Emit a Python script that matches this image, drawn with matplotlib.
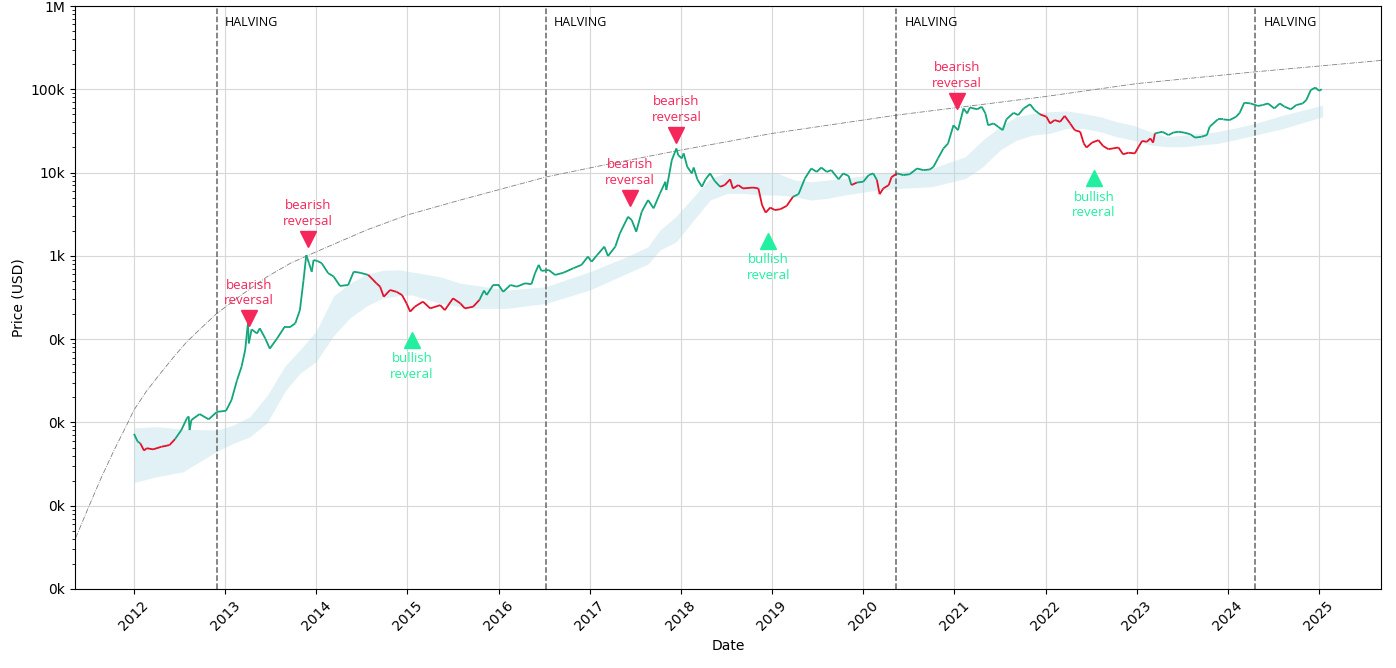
import matplotlib
matplotlib.use("Agg")
import matplotlib.pyplot as plt
import numpy as np
from matplotlib.collections import LineCollection
from matplotlib.ticker import FuncFormatter, NullFormatter

# price (decimal year, USD)
years = [2012.00, 2012.04, 2012.07, 2012.11, 2012.14, 2012.21, 2012.30, 2012.39, 2012.45, 2012.52,
         2012.58, 2012.60, 2012.61, 2012.63, 2012.72, 2012.82, 2012.91, 2013.01, 2013.07, 2013.13,
         2013.18, 2013.22, 2013.25, 2013.26, 2013.29, 2013.35, 2013.38, 2013.44, 2013.49, 2013.57,
         2013.65, 2013.71, 2013.77, 2013.82, 2013.86, 2013.89, 2013.92, 2013.95, 2013.97, 2014.01,
         2014.06, 2014.13, 2014.19, 2014.26, 2014.35, 2014.41, 2014.48, 2014.57, 2014.66, 2014.70,
         2014.74, 2014.81, 2014.88, 2014.94, 2014.99, 2015.03, 2015.08, 2015.17, 2015.25, 2015.36,
         2015.41, 2015.50, 2015.58, 2015.63, 2015.72, 2015.79, 2015.84, 2015.87, 2015.94, 2016.00,
         2016.05, 2016.13, 2016.20, 2016.29, 2016.36, 2016.40, 2016.44, 2016.47, 2016.55, 2016.62,
         2016.71, 2016.82, 2016.91, 2016.98, 2017.02, 2017.08, 2017.16, 2017.20, 2017.28, 2017.33,
         2017.42, 2017.46, 2017.51, 2017.57, 2017.64, 2017.70, 2017.77, 2017.83, 2017.84, 2017.90,
         2017.95, 2017.97, 2018.01, 2018.03, 2018.07, 2018.12, 2018.14, 2018.18, 2018.23, 2018.27,
         2018.32, 2018.37, 2018.43, 2018.48, 2018.54, 2018.57, 2018.63, 2018.68, 2018.79, 2018.85,
         2018.89, 2018.93, 2018.98, 2019.03, 2019.09, 2019.16, 2019.23, 2019.29, 2019.36, 2019.43,
         2019.49, 2019.54, 2019.60, 2019.65, 2019.73, 2019.78, 2019.84, 2019.87, 2019.93, 2020.00,
         2020.06, 2020.11, 2020.15, 2020.18, 2020.22, 2020.28, 2020.31, 2020.37, 2020.44, 2020.51,
         2020.59, 2020.66, 2020.73, 2020.77, 2020.82, 2020.88, 2020.93, 2020.99, 2021.04, 2021.10,
         2021.14, 2021.17, 2021.25, 2021.30, 2021.34, 2021.37, 2021.43, 2021.48, 2021.53, 2021.57,
         2021.65, 2021.70, 2021.76, 2021.83, 2021.88, 2021.94, 2022.01, 2022.05, 2022.10, 2022.16,
         2022.21, 2022.27, 2022.32, 2022.38, 2022.42, 2022.45, 2022.51, 2022.58, 2022.63, 2022.69,
         2022.74, 2022.80, 2022.85, 2022.91, 2022.98, 2023.02, 2023.06, 2023.11, 2023.15, 2023.18,
         2023.20, 2023.28, 2023.35, 2023.40, 2023.46, 2023.52, 2023.59, 2023.64, 2023.71, 2023.77,
         2023.80, 2023.89, 2023.95, 2024.02, 2024.09, 2024.13, 2024.18, 2024.25, 2024.33, 2024.38,
         2024.44, 2024.51, 2024.57, 2024.62, 2024.69, 2024.75, 2024.82, 2024.86, 2024.91, 2024.96,
         2025.00, 2025.03]
prices = [7.3, 5.9, 5.6, 4.6, 4.9, 4.75, 5.1, 5.35, 6.3, 8.1,
          11.2, 11.8, 8.1, 10.7, 12.6, 10.9, 13.4, 13.8, 18.6, 32,
          46.7, 74, 155, 89, 131, 117, 135, 102, 77, 102,
          139, 139, 155, 223, 510, 1020, 815, 645, 890, 870,
          815, 620, 565, 435, 447, 645, 627, 590, 468, 427,
          323, 389, 370, 339, 269, 214, 245, 282, 234, 256,
          223, 309, 269, 234, 245, 296, 383, 339, 447, 447,
          370, 447, 427, 468, 457, 620, 780, 660, 676, 590,
          627, 710, 780, 980, 850, 1020, 1290, 995, 1290, 1860,
          2950, 2690, 1950, 3390, 4680, 3720, 5620, 7760, 6170, 14100,
          19500, 16200, 14800, 17000, 11700, 9770, 11500, 8300, 6760, 8300,
          9770, 7940, 6760, 7080, 8300, 6450, 7080, 6450, 6610, 6450,
          4070, 3310, 3800, 3550, 3630, 3980, 5130, 5500, 8500, 11200,
          10200, 11500, 10200, 10700, 8300, 9770, 9100, 7080, 7590, 7760,
          9330, 9770, 8130, 5500, 6450, 7080, 8800, 9770, 9330, 9550,
          11200, 10700, 10900, 11700, 14800, 19500, 22300, 37000, 32300, 58900,
          51300, 60500, 57500, 61700, 51300, 37000, 38900, 35500, 32300, 43500,
          52200, 49000, 58900, 66100, 56200, 50000, 46800, 38900, 42700, 40700,
          47900, 38900, 32300, 30900, 22300, 20000, 22900, 24500, 20900, 19100,
          19500, 20000, 16600, 17300, 17000, 20400, 24000, 23400, 25700, 22900,
          29500, 30900, 28200, 30200, 30900, 30200, 28800, 26300, 26900, 28200,
          35500, 43500, 43500, 42700, 46800, 52200, 69000, 67600, 63100, 64600,
          67600, 58900, 67600, 62000, 57500, 64600, 67600, 74000, 98000, 105000,
          96000, 100000]

# bearish regime periods (drawn red)
red_periods = [(2012.06, 2012.46), (2014.57, 2015.79), (2018.42, 2019.25),
               (2019.86, 2019.95), (2020.14, 2020.36), (2021.93, 2023.19)]

# smoothed band
band_years = [2012.00, 2012.25, 2012.54, 2012.91, 2013.09, 2013.27, 2013.46, 2013.66, 2013.82, 2014.00,
              2014.19, 2014.37, 2014.55, 2014.73, 2014.92, 2015.05, 2015.36, 2015.58, 2015.72, 2016.09,
              2016.52, 2017.00, 2017.41, 2017.64, 2017.77, 2017.95, 2018.14, 2018.32, 2018.51, 2018.69,
              2018.87, 2019.06, 2019.25, 2019.43, 2019.61, 2019.79, 2020.16, 2020.39, 2020.75, 2021.12,
              2021.31, 2021.50, 2021.68, 2021.86, 2022.04, 2022.23, 2022.41, 2022.60, 2022.78, 2022.96,
              2023.15, 2023.33, 2023.51, 2023.70, 2023.88, 2024.06, 2024.30, 2024.61, 2025.04]
band_upper = [8.6, 8.9, 8.3, 8.1, 9.3, 11.7, 21, 48, 74, 125,
              330, 470, 600, 670, 680, 640, 561, 470, 447, 389,
              427, 645, 980, 1290, 2040, 3000, 5130, 8500, 10000, 9770,
              9770, 9770, 8130, 7760, 8130, 8500, 9770, 10200, 11200, 15500,
              24500, 35500, 46800, 51300, 53700, 55000, 51300, 46800, 40700, 37000,
              30900, 26900, 28200, 29500, 30900, 33900, 38900, 49000, 64600]
band_lower = [1.9, 2.23, 2.56, 4.5, 5.6, 6.7, 9.9, 24, 38.8, 54,
              110, 180, 250, 310, 335, 339, 269, 245, 234, 234,
              269, 389, 617, 800, 1175, 1480, 2690, 4680, 5620, 5620,
              5370, 5370, 5130, 4680, 4900, 5370, 6170, 6450, 6760, 8500,
              11700, 18600, 24500, 28200, 29500, 33900, 33900, 30900, 26900, 24500,
              21400, 20400, 20400, 21400, 22300, 24500, 28200, 33900, 46800]

# long-term trend curve
trend_years = [2011.36, 2011.50, 2011.63, 2011.78, 2011.92, 2012.00, 2012.14, 2012.29, 2012.43, 2012.58,
               2012.75, 2012.91, 2013.18, 2013.46, 2013.72, 2014.00, 2014.55, 2015.00, 2015.58, 2016.53,
               2017.20, 2017.95, 2019.00, 2020.37, 2021.98, 2023.00, 2024.30, 2025.62, 2025.70]
trend_values = [0.41, 0.95, 2.04, 4.6, 9.3, 14.1, 24, 38.8, 60, 93,
                140, 204, 340, 561, 820, 1120, 2040, 3100, 4680, 8900,
                12600, 18200, 29500, 49000, 81300, 117000, 162000, 219000, 223000]

halvings = [2012.91, 2016.52, 2020.36, 2024.30]

bear_years = [2013.26, 2013.91, 2017.44, 2017.95, 2021.03]
bear_prices = [178, 1610, 5000, 28500, 72600]
bull_years = [2015.05, 2018.96, 2022.53]
bull_prices = [98, 1520, 8500]

year_ticks = list(range(2012, 2026))

GREEN = "#12a57a"
RED = "#e5112b"
BEAR = "#f5265a"
BULL = "#22f0a0"

fig = plt.figure(figsize=(13.96, 6.68), dpi=100)
ax = fig.add_axes([75 / 1396, 1 - 589 / 668, (1381 - 75) / 1396, (589 - 6) / 668])

ax.set_yscale("log")

ax.fill_between(band_years, band_lower, band_upper, color="lightblue", alpha=0.35,
                linewidth=0, zorder=1)

ax.plot(trend_years, trend_values, color="gray", linestyle="-.", linewidth=0.6, zorder=2)

x = np.array(years)
y = np.array(prices)
segs = np.stack([np.column_stack([x[:-1], y[:-1]]), np.column_stack([x[1:], y[1:]])], axis=1)
mids = (x[:-1] + x[1:]) / 2
cols = []
for m in mids:
    is_red = any(a <= m <= b for a, b in red_periods)
    cols.append(RED if is_red else GREEN)
lc = LineCollection(segs, colors=cols, linewidths=1.3, zorder=3)
ax.add_collection(lc)

for h in halvings:
    ax.axvline(h, color="#666666", linestyle="--", linewidth=1.1, zorder=2)
    ax.text(h + 0.09, 0.972, "HALVING", transform=ax.get_xaxis_transform(),
            fontsize=9, family="Open Sans", va="center", ha="left")

ax.plot(bear_years, bear_prices, linestyle="none", marker="v", markersize=12,
        color=BEAR, zorder=4)
for bx, by in zip(bear_years, bear_prices):
    ax.annotate("bearish\nreversal", (bx, by), xytext=(0, 8), textcoords="offset points",
                ha="center", va="bottom", color=BEAR, fontsize=9.5, family="Open Sans",
                linespacing=1.25)

ax.plot(bull_years, bull_prices, linestyle="none", marker="^", markersize=12,
        color=BULL, zorder=4)
for bx, by in zip(bull_years, bull_prices):
    ax.annotate("bullish\nreveral", (bx, by), xytext=(0, -9), textcoords="offset points",
                ha="center", va="top", color=BULL, fontsize=9.5, family="Open Sans",
                linespacing=1.25)

ax.set_xlim(2011.353, 2025.68)
ax.set_ylim(0.1, 1e6)
ax.set_xticks(year_ticks)
ax.set_xticklabels([str(t) for t in year_ticks], rotation=45)
ax.yaxis.set_major_formatter(FuncFormatter(lambda v, p: "1M" if v >= 1e6 else f"{v / 1000:.0f}k"))
ax.yaxis.set_minor_formatter(NullFormatter())

ax.grid(True, which="major", color="#d8d8d8", linewidth=0.8)
ax.set_axisbelow(True)
ax.set_xlabel("Date", fontsize=10)
ax.set_ylabel("Price (USD)", fontsize=10)

fig.savefig("out.png", dpi=100)
